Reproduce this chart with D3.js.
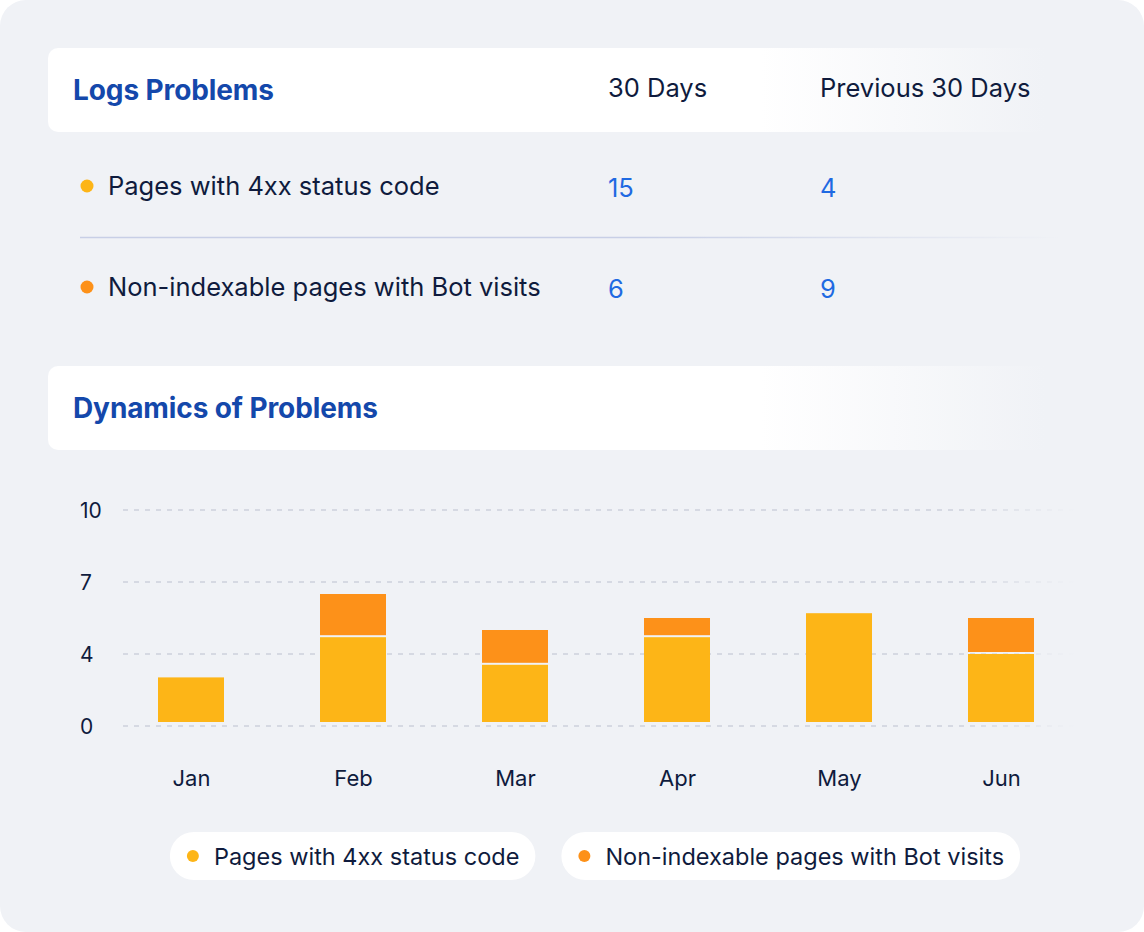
<!DOCTYPE html>
<html>
<head>
<meta charset="utf-8">
<script src="https://cdn.jsdelivr.net/npm/d3@7/dist/d3.min.js"></script>
<style>
  html, body { margin: 0; padding: 0; background: #ffffff; }
  svg { display: block; }
  text { font-family: Inter, "Noto Sans", sans-serif; }
</style>
</head>
<body>
<svg id="chart" width="1144" height="932"></svg>
<script>
// ---- data ----
const tableTitle = "Logs Problems";
const tableColumns = ["30 Days", "Previous 30 Days"];
const problemNames = ["Pages with 4xx status code", "Non-indexable pages with Bot visits"];
const current30 = [15, 6];
const previous30 = [4, 9];

const chartTitle = "Dynamics of Problems";
const months = ["Jan", "Feb", "Mar", "Apr", "May", "Jun"];
const pages4xx = [2.7, 4.7, 3.4, 4.7, 5.7, 4.0];
const nonIndexable = [0, 1.8, 1.6, 0.8, 0, 1.5];
const yTickValues = [0, 4, 7, 10];

const seriesNames = ["Pages with 4xx status code", "Non-indexable pages with Bot visits"];
const seriesColors = ["#fdb517", "#fd9119"];

// ---- styles ----
const BG = "#f0f2f6";
const DARK = "#0f1b3d";
const TITLE_BLUE = "#1448ab";
const VALUE_BLUE = "#1f6ae2";

const svg = d3.select("#chart");
const defs = svg.append("defs");

// card background
svg.append("rect").attr("x", 0).attr("y", 0).attr("width", 1144).attr("height", 932)
  .attr("rx", 26).attr("fill", BG);

// header gradient (white fading into background)
const hg = defs.append("linearGradient").attr("id", "hdrGrad")
  .attr("gradientUnits", "userSpaceOnUse").attr("x1", 760).attr("x2", 1045).attr("y1", 0).attr("y2", 0);
hg.append("stop").attr("offset", 0).attr("stop-color", "#ffffff");
hg.append("stop").attr("offset", 1).attr("stop-color", BG);

const dg = defs.append("linearGradient").attr("id", "divGrad")
  .attr("gradientUnits", "userSpaceOnUse").attr("x1", 640).attr("x2", 1062).attr("y1", 0).attr("y2", 0);
dg.append("stop").attr("offset", 0).attr("stop-color", "#c8cfe6");
dg.append("stop").attr("offset", 1).attr("stop-color", "#c8cfe6").attr("stop-opacity", 0);

const gg = defs.append("linearGradient").attr("id", "gridGrad")
  .attr("gradientUnits", "userSpaceOnUse").attr("x1", 960).attr("x2", 1075).attr("y1", 0).attr("y2", 0);
gg.append("stop").attr("offset", 0).attr("stop-color", "#cdd1dc");
gg.append("stop").attr("offset", 1).attr("stop-color", "#cdd1dc").attr("stop-opacity", 0);

function header(y, label) {
  svg.append("rect").attr("x", 48).attr("y", y).attr("width", 1040).attr("height", 84)
    .attr("rx", 10).attr("fill", "url(#hdrGrad)");
  svg.append("text").attr("x", 73).attr("y", y + 52).attr("fill", TITLE_BLUE)
    .attr("font-size", 28).attr("font-weight", 700).attr("letter-spacing", -0.1).text(label);
}

// ---- table ----
header(48, tableTitle);
const colX = [608, 820];
tableColumns.forEach((c, i) => {
  svg.append("text").attr("x", colX[i]).attr("y", 97).attr("fill", DARK)
    .attr("font-size", 25.5).attr("font-weight", 400).text(c);
});
const rowY = [186, 287];
problemNames.forEach((name, i) => {
  svg.append("circle").attr("cx", 87).attr("cy", rowY[i]).attr("r", 6.5).attr("fill", seriesColors[i]);
  svg.append("text").attr("x", 108).attr("y", rowY[i] + 9).attr("fill", DARK)
    .attr("font-size", 25.5).text(name);
  svg.append("text").attr("x", colX[0]).attr("y", rowY[i] + 11).attr("fill", VALUE_BLUE)
    .attr("font-size", 25.5).text(current30[i]);
  svg.append("text").attr("x", colX[1]).attr("y", rowY[i] + 11).attr("fill", VALUE_BLUE)
    .attr("font-size", 25.5).text(previous30[i]);
});
svg.append("line").attr("x1", 80).attr("x2", 1062).attr("y1", 237.5).attr("y2", 237.5)
  .attr("stroke", "url(#divGrad)").attr("stroke-width", 1.5);

// ---- chart ----
header(366, chartTitle);

const y = d3.scaleLinear().domain(yTickValues).range([726, 654, 582, 510]);
const x = d3.scalePoint().domain(months).range([191, 1001]);
const barW = 66;
const barBase = y(0) - 4;

// grid
const grid = svg.append("g");
grid.selectAll("line").data(yTickValues).join("line")
  .attr("x1", 123).attr("x2", 1075)
  .attr("y1", d => y(d)).attr("y2", d => y(d))
  .attr("stroke", "url(#gridGrad)").attr("stroke-width", 1.3)
  .attr("stroke-dasharray", "5 6");

// y axis labels
const yAxis = d3.axisLeft(y).tickValues(yTickValues).tickSize(0).tickPadding(0);
const yg = svg.append("g").attr("transform", "translate(80,0)").call(yAxis);
yg.select(".domain").remove();
yg.selectAll("text").attr("text-anchor", "start").attr("x", 0).attr("dy", "0.35em")
  .attr("fill", DARK).attr("font-size", 21).attr("font-family", "Inter, sans-serif");

// x axis labels
const xAxis = d3.axisBottom(x).tickSize(0).tickPadding(0);
const xg = svg.append("g").attr("transform", "translate(0,770)").call(xAxis);
xg.select(".domain").remove();
xg.selectAll("text").attr("dy", "0.71em").attr("fill", DARK).attr("font-size", 22)
  .attr("font-family", "Inter, sans-serif");

// bars
const bars = svg.append("g");
months.forEach((m, i) => {
  const v1 = pages4xx[i], v2 = nonIndexable[i];
  const top1 = y(v1);
  bars.append("rect").attr("x", x(m) - barW / 2).attr("y", top1)
    .attr("width", barW).attr("height", barBase - top1).attr("fill", seriesColors[0]);
  if (v2 > 0) {
    const top2 = y(v1 + v2);
    bars.append("rect").attr("x", x(m) - barW / 2).attr("y", top2)
      .attr("width", barW).attr("height", top1 - 2 - top2).attr("fill", seriesColors[1]);
  }
});

// legend
const legend = svg.append("g");
const items = [];
seriesNames.forEach((n, i) => {
  const g = legend.append("g");
  const r = g.append("rect").attr("y", 832).attr("height", 48).attr("rx", 24).attr("fill", "#ffffff");
  const c = g.append("circle").attr("cy", 856).attr("r", 6).attr("fill", seriesColors[i]);
  const t = g.append("text").attr("y", 864.5).attr("fill", DARK).attr("font-size", 23.5).text(n);
  const w = t.node().getComputedTextLength() + 44 + 16;
  items.push({ r, c, t, w });
});
const gap = 26;
const total = d3.sum(items, d => d.w) + gap * (items.length - 1);
let lx = 595 - total / 2;
items.forEach(it => {
  it.r.attr("x", lx).attr("width", it.w);
  it.c.attr("cx", lx + 23);
  it.t.attr("x", lx + 44);
  lx += it.w + gap;
});
</script>
</body>
</html>
